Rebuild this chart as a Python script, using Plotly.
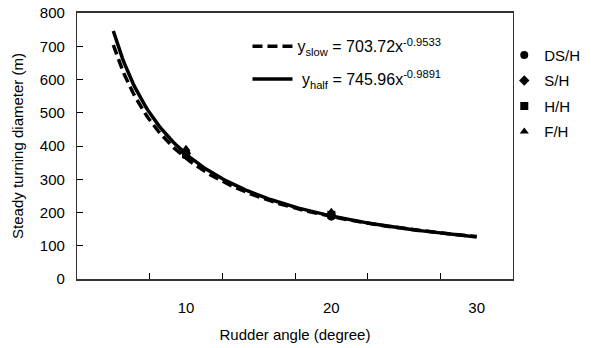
import numpy as np
import plotly.graph_objects as go

# Rudder angle categories (degrees); the trend-line x is the category index 1..6
rudder_angles = [5, 10, 15, 20, 25, 30]
shown_tick_labels = ["", "10", "", "20", "", "30"]

# Power-law trend lines y = a * x^b
slow_coef, slow_exp = 703.72, -0.9533
half_coef, half_exp = 745.96, -0.9891

# Measured steady turning diameters (m) at 10 and 20 degrees
meas_idx = [2, 4]
ds_h = [372, 188]
s_h = [378, 191]
h_h = [375, 193]
f_h = [392, 202]

cat_idx = np.arange(1, len(rudder_angles) + 1)
xs = np.linspace(cat_idx[0], cat_idx[-1], 200)
y_slow = slow_coef * xs ** slow_exp
y_half = half_coef * xs ** half_exp

font = "Liberation Sans, Arial, sans-serif"
fig = go.Figure()

fig.add_trace(go.Scatter(
    x=xs, y=y_slow, mode="lines",
    line=dict(color="black", width=3.5, dash="10px,5px"),
    name="y<sub>slow</sub> = 703.72x<sup>-0.9533</sup>",
    legend="legend", legendgroup="a",
))
fig.add_trace(go.Scatter(
    x=xs, y=y_half, mode="lines",
    line=dict(color="black", width=3.5),
    name=" y<sub>half</sub> = 745.96x<sup>-0.9891</sup>",
    legend="legend", legendgroup="b",
))

markers = [("DS/H", ds_h, "circle"), ("S/H", s_h, "diamond"),
           ("H/H", h_h, "square"), ("F/H", f_h, "triangle-up")]
for i, (nm, vals, sym) in enumerate(markers):
    fig.add_trace(go.Scatter(
        x=meas_idx, y=vals, mode="markers",
        marker=dict(symbol=sym, color="black", size=8),
        name=nm, legend="legend2", legendgroup=f"m{i}",
    ))

# invisible trace carrying the labelled category axis
fig.add_trace(go.Scatter(x=cat_idx, y=[0] * len(cat_idx), xaxis="x2",
                         mode="markers", marker=dict(opacity=0),
                         showlegend=False, hoverinfo="skip"))

fig.update_layout(
    width=591, height=348,
    margin=dict(l=77, r=78, t=13, b=69, autoexpand=False),
    paper_bgcolor="white", plot_bgcolor="white",
    font=dict(family=font, size=15, color="black"),
    showlegend=True,
    xaxis=dict(
        range=[0.5, 6.5], tickvals=[1.5, 2.5, 3.5, 4.5, 5.5],
        ticks="inside", ticklen=6, tickcolor="black",
        showticklabels=False, showgrid=False, zeroline=False,
        showline=True, linecolor="#333", linewidth=1.5, mirror=True,
    ),
    xaxis2=dict(
        overlaying="x", matches="x", anchor="y", side="bottom",
        tickvals=list(cat_idx), ticktext=shown_tick_labels,
        ticks="", ticklabelstandoff=18, showgrid=False, zeroline=False,
        showline=False,
        title=dict(text="Rudder angle (degree)", standoff=14,
                   font=dict(size=15)),
        tickfont=dict(size=15),
    ),
    yaxis=dict(
        range=[0, 800], tickvals=list(range(0, 801, 100)),
        ticks="inside", ticklen=6, tickcolor="black",
        showgrid=False, zeroline=False,
        showline=True, linecolor="#333", linewidth=1.2, mirror=True,
        ticklabelstandoff=8, tickfont=dict(size=15),
        title=dict(text="Steady turning diameter (m)", standoff=12,
                   font=dict(size=15)),
    ),
    legend=dict(
        x=0.391, y=0.939, xanchor="left", yanchor="top",
        bgcolor="rgba(0,0,0,0)", font=dict(size=16),
        traceorder="grouped", tracegroupgap=9, itemwidth=40,
    ),
    legend2=dict(
        x=0.98, y=0.903, xanchor="left", yanchor="top",
        bgcolor="rgba(0,0,0,0)", font=dict(size=15),
        traceorder="grouped", tracegroupgap=3, itemwidth=30,
    ),
)

fig.write_html("out.html")
